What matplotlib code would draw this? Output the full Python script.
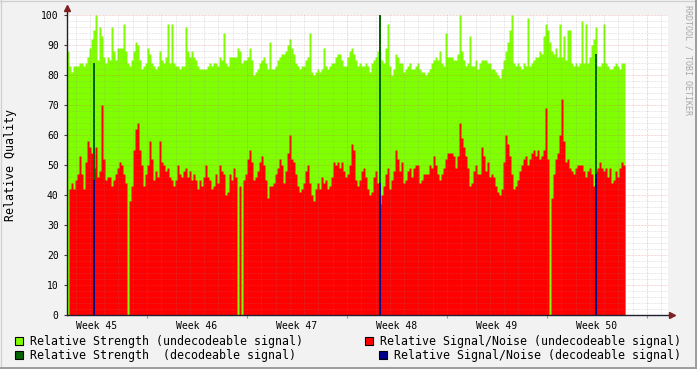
import numpy as np
import matplotlib
matplotlib.use('Agg')
import matplotlib.pyplot as plt
from matplotlib.patches import Rectangle
from matplotlib.lines import Line2D

# 측정값 (RRD consolidation step = 0.14 day, 시작: week 45 화요일 오전)
strength_undec = [
    88, 83, 81, 83, 83, 83, 84, 84, 83, 84,
    86, 89, 92, 95, 100, 85, 96, 93, 86, 84,
    86, 85, 96, 88, 85, 89, 89, 89, 97, 88,
    84, 83, 85, 88, 91, 90, 85, 82, 83, 84,
    89, 87, 84, 83, 82, 83, 88, 85, 84, 86,
    97, 84, 97, 84, 83, 83, 82, 83, 83, 96,
    88, 86, 88, 86, 85, 83, 82, 82, 82, 82,
    83, 84, 83, 84, 84, 83, 86, 85, 94, 84,
    83, 86, 86, 86, 86, 89, 88, 84, 85, 85,
    86, 89, 85, 80, 81, 82, 84, 85, 86, 84,
    82, 91, 82, 82, 83, 85, 86, 87, 87, 88,
    90, 92, 89, 87, 84, 83, 82, 83, 83, 85,
    86, 94, 81, 80, 81, 82, 81, 82, 89, 83,
    82, 83, 84, 84, 86, 87, 87, 85, 83, 83,
    86, 88, 89, 87, 85, 83, 84, 83, 83, 84,
    83, 81, 84, 85, 86, 88, 88, 85, 84, 89,
    97, 83, 80, 82, 87, 86, 84, 84, 81, 82,
    83, 84, 82, 82, 83, 84, 82, 81, 81, 80,
    81, 82, 84, 85, 86, 85, 88, 84, 83, 94,
    86, 86, 86, 85, 85, 87, 100, 88, 85, 83,
    84, 93, 83, 83, 85, 82, 84, 85, 85, 85,
    84, 84, 82, 82, 81, 80, 79, 82, 85, 88,
    91, 95, 100, 84, 83, 84, 83, 82, 84, 83,
    99, 83, 84, 85, 86, 86, 88, 87, 93, 97,
    95, 91, 88, 87, 89, 86, 97, 86, 93, 85,
    95, 95, 84, 83, 84, 83, 84, 98, 84, 97,
    84, 86, 90, 92, 96, 83, 83, 84, 97, 84,
    83, 82, 82, 83, 84, 83, 82, 84, 84,
]
snr_undec = [
    0, 42, 44, 42, 45, 47, 53, 47, 42, 51,
    58, 56, 54, 49, 56, 46, 48, 70, 52, 45,
    46, 46, 43, 45, 47, 49, 51, 50, 47, 44,
    0, 38, 43, 55, 62, 64, 55, 50, 43, 47,
    50, 58, 52, 45, 48, 46, 58, 51, 50, 48,
    49, 46, 45, 43, 45, 50, 47, 46, 48, 49,
    46, 48, 45, 47, 45, 42, 45, 43, 46, 50,
    46, 45, 42, 43, 47, 44, 50, 48, 47, 40,
    41, 47, 45, 49, 46, 0, 43, 0, 45, 47,
    52, 55, 51, 45, 46, 48, 51, 53, 50, 45,
    39, 43, 43, 44, 47, 49, 52, 50, 44, 48,
    54, 60, 52, 51, 47, 43, 41, 42, 44, 48,
    50, 44, 40, 38, 42, 44, 42, 46, 44, 45,
    42, 43, 46, 51, 50, 51, 49, 51, 48, 46,
    47, 50, 57, 55, 45, 43, 45, 48, 49, 46,
    42, 40, 41, 46, 48, 44, 37, 40, 43, 47,
    49, 42, 45, 48, 55, 52, 48, 51, 44, 45,
    48, 49, 46, 49, 50, 50, 44, 45, 47, 47,
    47, 50, 49, 53, 50, 47, 45, 47, 49, 52,
    54, 54, 54, 53, 49, 53, 64, 59, 56, 53,
    49, 43, 44, 48, 50, 47, 47, 56, 53, 48,
    51, 46, 47, 46, 43, 41, 40, 42, 51, 60,
    57, 53, 47, 42, 43, 45, 48, 50, 52, 53,
    50, 52, 54, 55, 53, 55, 52, 53, 55, 69,
    52, 0, 39, 47, 52, 54, 60, 72, 58, 51,
    52, 49, 48, 47, 49, 50, 50, 50, 48, 46,
    48, 49, 47, 43, 48, 49, 51, 49, 48, 49,
    46, 49, 44, 45, 48, 46, 49, 51, 50,
]
# decodeable 신호 (step index, 값)
dec_steps = [13, 156, 264]
strength_dec = [84, 100, 87]
snr_dec = [45, 44, 47]

week_labels = ['Week 45', 'Week 46', 'Week 47', 'Week 48', 'Week 49', 'Week 50']
legend_labels = [
    'Relative Strength (undecodeable signal)',
    'Relative Strength  (decodeable signal)',
    'Relative Signal/Noise (undecodeable signal)',
    'Relative Signal/Noise (decodeable signal)',
]

# 시간축 (일 단위, week 45 월요일 00:00 = 0)
START_DAY = 1.4
STEP = 0.14
END_DAY = 43.47

C_STR = '#80FF00'
C_SNR = '#FF0000'
C_STR_DEC = '#006400'
C_SNR_DEC = '#00008B'

W, H = 697, 369
plt.rcParams['font.family'] = 'DejaVu Sans Mono'


def fx(px):
    return px / W


def fy(py):
    return 1 - py / H


fig = plt.figure(figsize=(W / 100, H / 100), dpi=100, facecolor='#F2F2F2')
ax = fig.add_axes([fx(67), fy(315), fx(668) - fx(67), fy(15) - fy(315)])
ax.set_facecolor('white')

n = len(strength_undec)
t = START_DAY + STEP * np.arange(n + 1)
g = np.append(strength_undec, strength_undec[-1])
r = np.append(snr_undec, snr_undec[-1])
ax.fill_between(t, 0, g, step='post', color=C_STR, lw=0, zorder=1)
ax.fill_between(t, 0, r, step='post', color=C_SNR, lw=0, zorder=2)

dec_t = START_DAY + STEP * np.array(dec_steps)
ax.bar(dec_t + STEP * 0.2, strength_dec, width=STEP * 0.6, align='edge',
       color=C_STR_DEC, lw=0, zorder=2.5)
ax.bar(dec_t, snr_dec, width=STEP, align='edge', color=C_SNR_DEC, lw=0, zorder=2.6)

ax.set_xlim(START_DAY, END_DAY)
ax.set_ylim(0, 100)

# 그리드 (rrdtool 스타일 점선)
minor_c = (0.55, 0.55, 0.55, 0.35)
major_c = (0.87, 0.31, 0.31, 0.45)
dots = (0, (0.72, 1.0))
for d in range(2, 44):
    c = major_c if d % 7 == 0 else minor_c
    ax.axvline(d, color=c, lw=0.6, ls=dots, zorder=3)
for v in range(2, 101, 2):
    c = major_c if v % 10 == 0 else minor_c
    ax.axhline(v, color=c, lw=0.6, ls=dots, zorder=3)

ax.set_yticks(range(0, 101, 10))
ax.set_xticks([3.5 + 7 * i for i in range(len(week_labels))])
ax.set_xticklabels(week_labels)
ax.set_xticks(range(7, 44, 7), minor=True)
ax.tick_params(axis='both', which='both', labelsize=7, labelcolor='black',
               length=2, width=0.8)
ax.tick_params(axis='y', which='major', color='#404040', pad=4)
ax.tick_params(axis='x', which='minor', color='#D08080')
ax.tick_params(axis='x', which='major', length=0, pad=4)
for s in ax.spines.values():
    s.set_visible(False)

# 축 + 화살표
axis_c = '#1F1F2F'
arrow_c = '#7F1F1F'
ax.plot([0, 1.005], [0, 0], transform=ax.transAxes, color=axis_c, lw=1,
        clip_on=False, zorder=5)
ax.plot([0, 0], [0, 1.02], transform=ax.transAxes, color=axis_c, lw=1,
        clip_on=False, zorder=5)
ax.plot([1.006], [0], transform=ax.transAxes, marker='>', ms=4.5, color=arrow_c,
        clip_on=False, zorder=6)
ax.plot([0], [1.022], transform=ax.transAxes, marker='^', ms=4.5, color=arrow_c,
        clip_on=False, zorder=6)

fig.text(fx(11), fy(165), 'Relative Quality', rotation=90, ha='center',
         va='center', fontsize=8.4)
fig.text(fx(688), fy(5), 'RRDTOOL / TOBI OETIKER', rotation=-90, ha='center',
         va='top', fontsize=6, color='#A8A8A8')

# 범례
legend_items = [
    (15, 337, 30, C_STR, legend_labels[0]),
    (15, 351, 30, C_STR_DEC, legend_labels[1]),
    (365, 337, 380, C_SNR, legend_labels[2]),
    (379, 351, 394, C_SNR_DEC, legend_labels[3]),
]
for bx, by, tx, col, lab in legend_items:
    fig.add_artist(Rectangle((fx(bx), fy(by + 8)), 8 / W, 8 / H,
                             transform=fig.transFigure, facecolor=col,
                             edgecolor='black', lw=0.8))
    fig.text(fx(tx), fy(by + 4), lab, ha='left', va='center', fontsize=8.4)

# 테두리
fig.add_artist(Line2D([0, 1], [fy(0.5), fy(0.5)], transform=fig.transFigure,
                      color='#CFCFCF', lw=0.9))
fig.add_artist(Line2D([fx(0.5), fx(0.5)], [0, 1], transform=fig.transFigure,
                      color='#CFCFCF', lw=0.9))
fig.add_artist(Line2D([0, 1], [fy(368), fy(368)], transform=fig.transFigure,
                      color='#9E9E9E', lw=1.44))
fig.add_artist(Line2D([fx(696), fx(696)], [0, 1], transform=fig.transFigure,
                      color='#9E9E9E', lw=1.44))

fig.savefig('out.png', dpi=100, facecolor=fig.get_facecolor())
